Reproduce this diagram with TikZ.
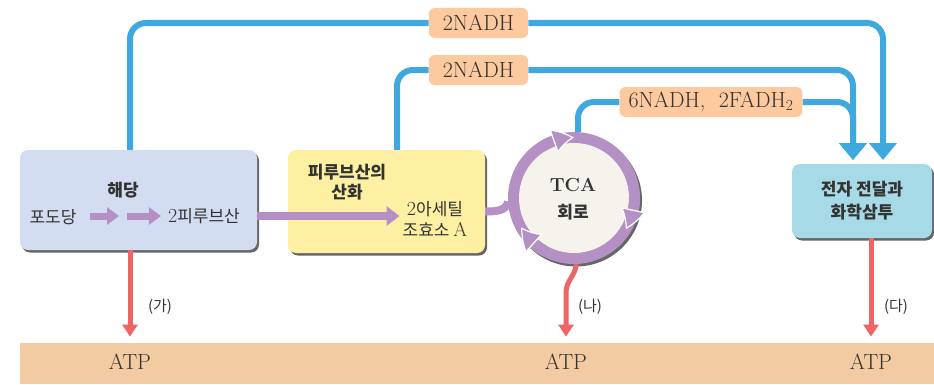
\documentclass[tikz,border=0pt]{standalone}
\usepackage{fontspec}
\newfontfamily\kr{Noto Sans CJK KR}
\usetikzlibrary{arrows.meta,bending,shadows,backgrounds,positioning}

\definecolor{glyfill}{HTML}{D3DDF1}
\definecolor{pyrfill}{HTML}{FDF0A3}
\definecolor{etcfill}{HTML}{A5DAE6}
\definecolor{barpeach}{HTML}{F2CBA2}
\definecolor{tagpeach}{HTML}{FDC99F}
\definecolor{nadhblue}{HTML}{3FA8DF}
\definecolor{atpred}{HTML}{EF6464}
\definecolor{ringpurple}{HTML}{B590C5}
\definecolor{tcafill}{HTML}{F5F3EC}
\definecolor{ink}{HTML}{333333}

\newcommand{\lat}[1]{{\rmfamily\fontsize{20}{21}\selectfont #1}}

\begin{document}
\begin{tikzpicture}[x=1pt,y=1pt,
  txt/.style={text=ink,inner sep=0pt},
  kor/.style={txt,font=\kr\fontsize{17}{21}\selectfont},
  korb/.style={txt,font=\kr\bfseries\fontsize{17}{21}\selectfont},
  paren/.style={txt,font=\kr\fontsize{15}{18}\selectfont},
  latin/.style={txt,font=\fontsize{22}{24}\selectfont},
  box/.style={rounded corners=8pt,inner sep=0pt,
    drop shadow={shadow xshift=2pt,shadow yshift=-2.5pt,fill=black!75,opacity=.8}},
  tag/.style={latin,fill=tagpeach,rounded corners=6pt,minimum height=30pt,inner xsep=14pt},
  nadh/.style={draw=nadhblue,line width=6pt,rounded corners=16pt,
    -{Triangle[width=27pt,length=17pt]}},
  atparr/.style={draw=atpred,line width=5pt,-{Triangle[width=15pt,length=12pt]}},
  steparr/.style={draw=ringpurple,line width=7pt,-{Triangle[width=17pt,length=12pt]}},
  acarr/.style={draw=ringpurple,line width=8pt,-{Triangle[width=19pt,length=13pt]}},
  ringtip/.style={draw=ringpurple,line width=11pt,
    -{Triangle[width=25pt,length=21pt,bend,color=white,fill=ringpurple,line width=1.2pt]}}]
\useasboundingbox (0,0) rectangle (934,384);

% ATP band
\node[fill=barpeach,anchor=south west,inner sep=0pt,minimum width=914pt,minimum height=41pt] (bar) at (20,0) {};
\node[latin] (atpa) at (130,22) {ATP};
\node[latin] (atpb) at (566,22) {ATP};
\node[latin] (atpc) at (871,22) {ATP};

% glycolysis
\node[box,fill=glyfill,minimum width=237pt,minimum height=100pt] (gly) at (138.5,184) {};
\node[korb] (glyname) at (123,194) {해당};
\node[kor] (glc) at (53,167) {포도당};
\node[kor] (pyr2) at (204,168) {\lat{2}피루브산};
\coordinate (hop) at (123,168);
\draw[steparr] ([xshift=13pt]glc.east |- hop) -- ([xshift=-4pt]hop);
\draw[steparr] ([xshift=4pt]hop) -- ([xshift=-7pt]pyr2.west);

% pyruvate oxidation
\node[box,fill=pyrfill,minimum width=197pt,minimum height=103pt] (pyr) at (386.5,182.5) {};
\node[korb,align=center,font=\kr\bfseries\fontsize{17}{20}\selectfont] (pyrname) at (347,202) {피루브산의\\산화};
\node[kor,align=center] (acoa) at (435,165.5) {\lat{2}아세틸\\조효소 \lat{A}};
\draw[acarr] (gly.east |- pyr2) -- ([xshift=-3pt]acoa.west |- pyr2);

% TCA cycle
\node[circle,fill=ringpurple,minimum size=132pt,inner sep=0pt,
  drop shadow={shadow xshift=2pt,shadow yshift=-2.5pt,fill=black!75,opacity=.8}] (tca) at (574,186) {};
\fill[tcafill] (tca.center) circle (55);
\foreach \a in {90,-31,-151}
  \draw[ringtip] ([shift={(\a+32:60.5)}]tca.center) arc[start angle=\a+32,end angle=\a,radius=60.5];
\node[txt,font=\bfseries\fontsize{19}{22}\selectfont] (tcaname) at (573,199) {TCA};
\node[korb] (cycle) at (573,172) {회로};
\draw[draw=ringpurple,line width=8pt] ([yshift=-10pt]pyr.east) to[out=0,in=-95] (tca.183);

% electron transport
\node[box,fill=etcfill,minimum width=140pt,minimum height=74pt,align=center,
  korb,font=\kr\bfseries\fontsize{17}{23}\selectfont] (etc) at (862,183) {전자 전달과\\화학삼투};
\coordinate (in1) at (883,224);
\coordinate (in2) at (853,224);

% NADH carriers
\node[tag] (tag1) at (478.5,361) {2NADH};
\node[tag] (tag2) at (478.5,314) {2NADH};
\node[tag,inner xsep=9pt] (tag3) at (711,282) {6NADH,\ \ 2FADH\textsubscript{2}};
\begin{scope}[on background layer]
\draw[nadh] (gly.north -| atpa) |- (tag1) -| (in1);
\draw[nadh] ([xshift=10.5pt]pyr.north) |- (tag2) -| (in2);
\draw[nadh] ([xshift=4pt]tca.north) |- (tag3) -| (in2);
\end{scope}

% ATP yield
\draw[atparr] (gly.south -| atpa) -- ([yshift=6pt]bar.north -| atpa);
\draw[atparr] (tca.-88) to[out=-95,in=90] ([yshift=50pt]bar.north -| atpb) -- ([yshift=6pt]bar.north -| atpb);
\draw[atparr] (etc.south -| atpc) -- ([yshift=6pt]bar.north -| atpc);
\node[paren] (ga) at (160,77) {(가)};
\node[paren] (na) at (590,77) {(나)};
\node[paren] (da) at (896,77) {(다)};
\end{tikzpicture}
\end{document}
